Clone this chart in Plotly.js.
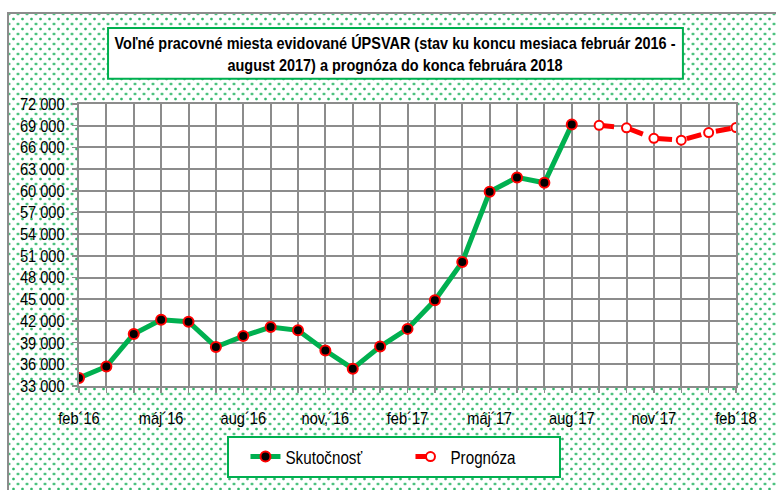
<!DOCTYPE html>
<html>
<head>
<meta charset="utf-8">
<script src="https://cdn.plot.ly/plotly-3.0.1.min.js"></script>
<style>
  html, body { margin: 0; padding: 0; background: #ffffff; }
  #wrap { position: relative; width: 776px; height: 490px; overflow: hidden; background: #ffffff; }
  #frame {
    position: absolute; left: 7px; top: 12px; width: 790px; height: 500px;
    border-left: 2px solid #8c8c8c; border-top: 2px solid #8c8c8c;
    background-color: #ffffff;
    background-image:
      radial-gradient(circle, rgba(40,180,100,0.95) 0.9px, rgba(40,180,100,0.35) 1.4px, rgba(255,255,255,0) 1.9px),
      radial-gradient(circle, rgba(40,180,100,0.95) 0.9px, rgba(40,180,100,0.35) 1.4px, rgba(255,255,255,0) 1.9px);
    background-size: 9px 10px, 9px 10px;
    background-position: 0 0, 4.5px 5px;
  }
  #chart { position: absolute; left: 0; top: 0; width: 776px; height: 490px; }
</style>
</head>
<body>
<div id="wrap">
  <div id="frame"></div>
  <div id="chart"></div>
</div>
<script>
// ---- data ----
const months = ["feb´16","mar´16","apr´16","máj´16","jún´16","júl´16","aug´16","sep´16","okt´16","nov´16","dec´16","jan´17",
                "feb´17","mar´17","apr´17","máj´17","jún´17","júl´17","aug´17","sep´17","okt´17","nov´17","dec´17","jan´18","feb´18"];
const tickLabels = ["feb´16","","","máj´16","","","aug´16","","","nov,´16","","","feb´17","","","máj´17","","","aug´17","","","nov´17","","","feb´18"];
const actualMonths = months.slice(0, 19);
const actualValues = [34100, 35700, 40200, 42150, 41900, 38400, 39900, 41150, 40700, 37900, 35400, 38450,
                      40900, 44850, 50150, 59850, 61850, 61100, 69150];
const forecastMonths = months.slice(19);
const forecastValues = [69050, 68700, 67250, 67000, 68050, 68750];
const seriesNames = ["Skutočnosť", "Prognóza"];
const yTicks = [33000, 36000, 39000, 42000, 45000, 48000, 51000, 54000, 57000, 60000, 63000, 66000, 69000, 72000];
const yTickLabels = ["33 000","36 000","39 000","42 000","45 000","48 000","51 000","54 000","57 000","60 000","63 000","66 000","69 000","72 000"];
const titleText = "Voľné pracovné miesta evidované ÚPSVAR (stav ku koncu mesiaca február 2016 -<br>august 2017) a prognóza do konca februára 2018";

const FONT = "'Liberation Sans', Arial, sans-serif";
const GREEN = "#00B050";
const RED = "#FF0000";

const traces = [
  {
    type: "scatter", mode: "lines+markers", name: seriesNames[0],
    x: actualMonths, y: actualValues,
    line: { color: GREEN, width: 5 },
    marker: { color: "#000000", size: 10, line: { color: RED, width: 2 } },
    hoverinfo: "x+y"
  },
  {
    type: "scatter", mode: "lines+markers", name: seriesNames[1],
    x: forecastMonths, y: forecastValues,
    line: { color: RED, width: 5, dash: "dash" },
    marker: { color: "#ffffff", size: 9, line: { color: RED, width: 2 } },
    hoverinfo: "x+y"
  }
];

const layout = {
  width: 776, height: 490,
  margin: { l: 79, r: 40, t: 104, b: 97, pad: 0 },
  paper_bgcolor: "rgba(0,0,0,0)",
  plot_bgcolor: "#ffffff",
  font: { family: FONT, size: 15, color: "#000000" },
  title: {
    text: "<b>" + titleText + "</b>",
    font: { family: FONT, size: 17, color: "#000000" },
    xref: "container", x: 395 / 776, xanchor: "center",
    yref: "container", y: 1 - 49 / 490, yanchor: "middle"
  },
  xaxis: {
    type: "category",
    categoryorder: "array", categoryarray: months,
    range: [0, 24],
    tickmode: "array", tickvals: months, ticktext: tickLabels,
    showgrid: true, gridcolor: "#8c8c8c", gridwidth: 2,
    showline: true, linecolor: "#8c8c8c", linewidth: 2, mirror: true,
    ticks: "outside", ticklen: 5, tickcolor: "#8c8c8c", tickwidth: 1.5,
    ticklabelstandoff: 11,
    tickfont: { family: FONT, size: 17, color: "#000000" },
    tickangle: 0,
    zeroline: false, fixedrange: true
  },
  yaxis: {
    range: [33000, 72000],
    tickmode: "array", tickvals: yTicks, ticktext: yTickLabels,
    showgrid: true, gridcolor: "#8c8c8c", gridwidth: 2,
    showline: true, linecolor: "#8c8c8c", linewidth: 2, mirror: true,
    ticks: "outside", ticklen: 5, tickcolor: "#8c8c8c", tickwidth: 1.5,
    ticklabelstandoff: 4,
    tickfont: { family: FONT, size: 17, color: "#000000" },
    zeroline: false, fixedrange: true
  },
  showlegend: true,
  legend: {
    orientation: "h",
    x: (394 - 79) / 656, xanchor: "center",
    y: (393 - 444) / 289, yanchor: "top",
    bgcolor: "#ffffff", bordercolor: GREEN, borderwidth: 2,
    font: { family: FONT, size: 19, color: "#000000" },
    indentation: 16,
    entrywidth: 104
  },
  shapes: [
    {
      type: "rect", xref: "paper", yref: "paper", layer: "below",
      x0: (108 - 79) / 656, x1: (682 - 79) / 656,
      y0: (393 - 78) / 289, y1: (393 - 26) / 289,
      fillcolor: "#ffffff", line: { color: GREEN, width: 2 }
    }
  ]
};

// Narrow the glyphs (the reference uses a condensed face) while keeping real text.
function condense(el, factor) {
  const len = el.getComputedTextLength();
  if (len > 0) {
    el.setAttribute("textLength", (len * factor).toFixed(2));
    el.setAttribute("lengthAdjust", "spacingAndGlyphs");
  }
}

Plotly.newPlot("chart", traces, layout, { displayModeBar: false, staticPlot: true }).then(gd => {
  const title = gd.querySelector(".gtitle");
  if (title) {
    const lines = title.querySelectorAll("tspan.line");
    if (lines.length) {
      const first = lines[0].getComputedTextLength();
      const f = 561 / first;
      lines.forEach(t => condense(t, f));
    } else {
      condense(title, 0.85);
    }
  }
  gd.querySelectorAll(".legendtext").forEach(t => condense(t, 0.8));
  gd.querySelectorAll(".xtick text, .ytick text").forEach(t => condense(t, 0.86));
});
</script>
</body>
</html>
